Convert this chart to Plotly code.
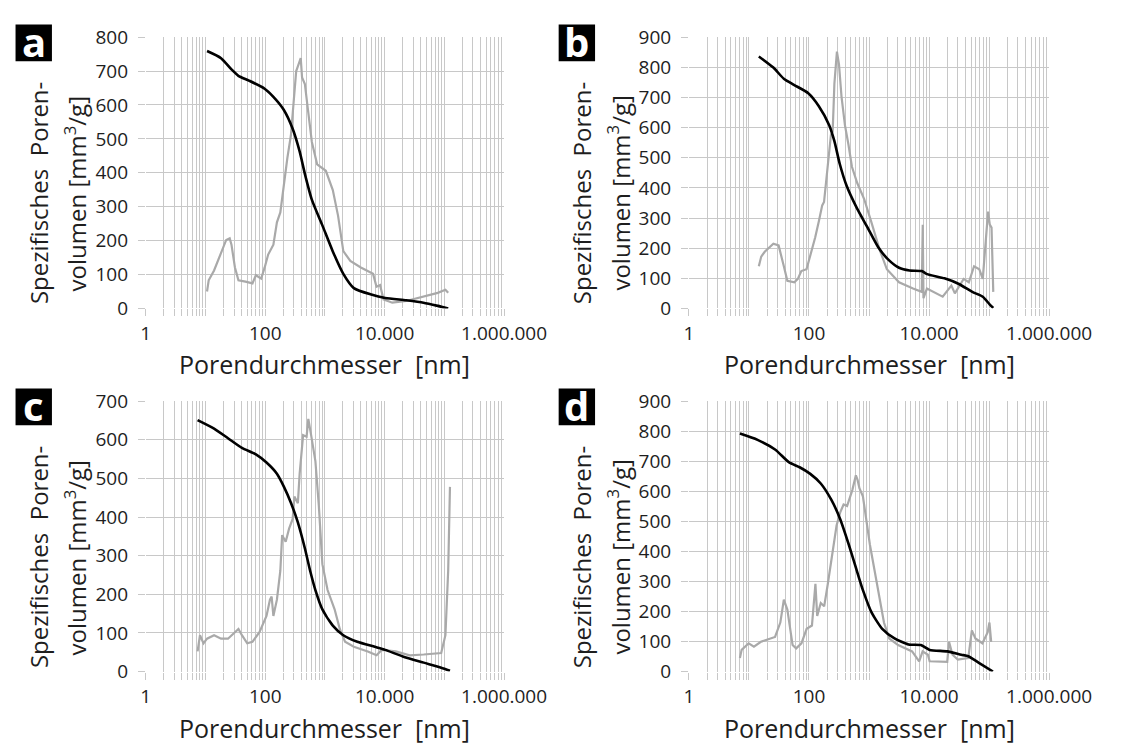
import plotly.graph_objects as go

# ---------------- data (diameter in nm, volume in mm3/g) ----------------
# Panel a
a_cum_x = [10.6, 18.2, 27.2, 35.5, 53.3, 97.7, 137, 204, 288, 377, 461, 603, 906, 1349, 2032, 3048,
           5970, 10233, 22910, 44670, 77620, 116100]
a_cum_y = [759, 738, 705, 686, 672, 648, 624, 586, 530, 463, 397, 321, 245, 169, 102, 60,
           41, 31, 24, 17, 7.6, 0]
a_dist_x = [10.6, 11.3, 13.9, 16.9, 19.4, 22.2, 25.4, 27.2, 31.1, 35.6, 46.7, 61.1, 69.8, 85.5, 97.9,
            112, 137, 157, 179, 206, 235, 269, 308, 330, 352, 393, 414, 461, 527, 604, 740, 906,
            1035, 1355, 1660, 2032, 2661, 3990, 6397, 7311, 8375, 9572, 13430, 23010, 45080,
            77450, 104200, 115900]
a_dist_y = [50, 83, 112, 150, 178, 202, 207, 188, 121, 83, 79, 74, 98, 88, 121,
            159, 188, 254, 283, 368, 444, 510, 634, 700, 714, 738, 681, 662, 577, 491, 425, 415,
            406, 349, 273, 169, 140, 121, 102, 64, 69, 27, 17, 22, 36,
            46, 55, 46]

# Panel b
b_cum_x = [14.6, 25.5, 38.1, 57.0, 97.3, 146, 217, 265, 325, 425, 634, 948, 1416, 2118, 3162, 4721,
           7551, 9226, 18030, 30760, 52600, 78520, 102800, 117500]
b_cum_y = [836, 799, 762, 741, 714, 671, 608, 555, 480, 406, 331, 268, 204, 161, 135, 126,
           124, 114, 100, 82, 55, 39, 13, 2]
b_dist_x = [14.6, 16.0, 18.3, 22.3, 25.5, 31.2, 33.4, 38.1, 43.6, 57.0, 65.2, 74.5, 91.0, 104, 127,
            146, 166, 178, 203, 232, 248, 265, 292, 316, 348, 397, 454, 519, 634, 830, 1084,
            1514, 1982, 3162, 5408, 7551, 7852, 8072, 9226, 12050, 16870, 23550, 26920, 37670,
            46030, 56230, 68710, 78520, 87500, 96160, 102800, 109900, 117500]
b_dist_y = [140, 172, 188, 204, 215, 209, 188, 140, 92, 87, 98, 124, 130, 172, 236,
            289, 342, 353, 470, 576, 586, 746, 852, 810, 703, 608, 544, 470, 417, 363, 289,
            193, 130, 87, 66, 55, 278, 34, 66, 55, 39, 76, 50, 98,
            87, 140, 130, 98, 236, 321, 278, 268, 55]

# Panel c
c_cum_x = [7.36, 13.9, 23.8, 40.7, 69.8, 105, 157, 206, 269, 352, 461, 565, 692, 906, 1355, 2032,
           3483, 6839, 10233, 20090, 45080, 88510, 124200]
c_cum_y = [651, 629, 604, 579, 562, 541, 512, 478, 437, 386, 319, 261, 211, 161, 119, 94,
           77, 64, 56, 39, 23, 10, 2]
c_dist_x = [7.36, 8.08, 9.25, 10.6, 13.9, 18.2, 23.8, 31.1, 35.6, 40.7, 49.9, 61.1, 80.0, 105, 120,
            128, 137, 157, 179, 192, 220, 251, 288, 308, 352, 377, 431, 493, 527, 587, 692,
            791, 906, 1107, 1452, 1774, 2173, 3048, 5224, 7311, 8954, 15350, 26300, 45080,
            88510, 104200, 115900, 124200]
c_dist_y = [52, 94, 73, 85, 94, 85, 85, 102, 110, 94, 73, 77, 102, 144, 186,
            194, 144, 186, 261, 353, 336, 370, 395, 453, 436, 512, 612, 608, 654, 612, 545,
            428, 278, 211, 161, 110, 77, 64, 52, 42, 56, 52, 42, 44,
            48, 94, 261, 478]

# Panel d
d_cum_x = [7.06, 13.9, 27.2, 46.7, 69.8, 105, 157, 235, 330, 461, 604, 791, 1107, 1660, 2661, 4560,
           7311, 10233, 20090, 34440, 45080, 67610, 115900]
d_cum_y = [792, 771, 739, 696, 680, 658, 626, 572, 508, 422, 346, 271, 196, 142, 110, 90,
           88, 72, 67, 56, 51, 29, 0]
d_dist_x = [7.06, 7.55, 9.89, 12.1, 15.8, 27.2, 33.3, 38.1, 43.6, 53.3, 61.1, 74.8, 91.4, 112, 128,
            137, 157, 179, 206, 251, 288, 330, 377, 431, 527, 604, 646, 692, 791, 1035, 1355,
            1774, 2173, 3048, 5224, 6839, 7816, 9572, 10233, 20090, 21530, 24600, 30130, 45080,
            51640, 59160, 77450, 94840, 101400, 108400]
d_dist_y = [45, 72, 94, 83, 99, 115, 163, 239, 206, 88, 77, 94, 142, 153, 292,
            185, 228, 217, 292, 411, 486, 529, 556, 551, 604, 653, 637, 610, 583, 422, 292,
            163, 110, 88, 67, 34, 67, 56, 34, 32, 99, 56, 40, 45,
            137, 110, 94, 131, 163, 99]

panel_letters = ["a", "b", "c", "d"]
y_max = [800, 900, 700, 900]
x_tick_labels = {1: "1", 100: "100", 10000: "10.000", 1000000: "1.000.000"}
x_title = "Porendurchmesser\u00a0 [nm]"
y_title_1 = "Spezifisches\u00a0 Poren-"
y_title_2 = "volumen [mm<sup>3</sup>/g]"

panels = [
    (a_cum_x, a_cum_y, a_dist_x, a_dist_y),
    (b_cum_x, b_cum_y, b_dist_x, b_dist_y),
    (c_cum_x, c_cum_y, c_dist_x, c_dist_y),
    (d_cum_x, d_cum_y, d_dist_x, d_dist_y),
]

# ---------------- layout geometry (pixels) ----------------
W, H = 1140, 755
x_px = [(147, 521), (714, 1090), (147, 521), (714, 1090)]
y_px = [(25, 306), (25, 306), (402, 682), (402, 682)]

def px_x(p):
    return p / W

def px_y(p):
    return 1 - p / H

grid_col = "#c8c8c8"
font_fam = "Open Sans"
text_col = "#1e1e1e"

tickvals = []
for k in range(6):
    for m in range(1, 10):
        tickvals.append(m * 10 ** k)
tickvals.append(10 ** 6)
ticktext = [x_tick_labels.get(v, "") for v in tickvals]

fig = go.Figure()
shapes = []
annotations = []

for i, (cx, cy, dx, dy) in enumerate(panels):
    xa = "x" if i == 0 else f"x{i+1}"
    ya = "y" if i == 0 else f"y{i+1}"
    fig.add_trace(go.Scatter(x=dx, y=dy, mode="lines", xaxis=xa, yaxis=ya,
                             line=dict(color="#a9a9a9", width=2.2), showlegend=False,
                             hoverinfo="skip"))
    fig.add_trace(go.Scatter(x=cx, y=cy, mode="lines", xaxis=xa, yaxis=ya,
                             line=dict(color="#000000", width=2.6, shape="spline", smoothing=0.6),
                             showlegend=False, hoverinfo="skip"))
    xkey = "xaxis" if i == 0 else f"xaxis{i+1}"
    ykey = "yaxis" if i == 0 else f"yaxis{i+1}"
    x0, x1 = x_px[i]
    y0, y1 = y_px[i]
    fig.layout[xkey] = dict(
        type="log", range=[0, 6], domain=[px_x(x0), px_x(x1)], anchor=ya,
        tickmode="array", tickvals=tickvals, ticktext=ticktext,
        showgrid=True, gridcolor=grid_col, gridwidth=1,
        ticks="outside", ticklen=7, tickcolor=grid_col, tickwidth=1,
        showline=False, zeroline=False, ticklabelstandoff=1,
        tickfont=dict(family=font_fam, size=19, color=text_col), fixedrange=True,
    )
    fig.layout[ykey] = dict(
        range=[0, y_max[i]], domain=[px_y(y1), px_y(y0)], anchor=xa,
        dtick=100, tick0=0,
        showgrid=True, gridcolor=grid_col, gridwidth=1,
        ticks="outside", ticklen=7, tickcolor=grid_col, tickwidth=1,
        showline=False, zeroline=False, ticklabelstandoff=6,
        tickfont=dict(family=font_fam, size=19, color=text_col), fixedrange=True,
    )
    # panel letter box
    bx = x0 - 136
    by = y0 - 13
    shapes.append(dict(type="rect", xref="paper", yref="paper",
                       x0=px_x(bx), x1=px_x(bx + 38), y0=px_y(by + 38), y1=px_y(by),
                       fillcolor="black", line=dict(width=0), layer="above"))
    annotations.append(dict(text=panel_letters[i], xref="paper", yref="paper",
                            x=px_x(bx + 19), y=px_y(by + 17), xanchor="center", yanchor="middle",
                            showarrow=False,
                            font=dict(family=font_fam, size=40, color="white", weight="bold")))
    # x title
    annotations.append(dict(text=x_title, xref="paper", yref="paper",
                            x=px_x((x0 + x1) / 2), y=px_y(y1 + 58), xanchor="center",
                            yanchor="middle", showarrow=False,
                            font=dict(family=font_fam, size=25, color=text_col)))
    # y title (two lines)
    annotations.append(dict(text=y_title_1, xref="paper", yref="paper",
                            x=px_x(x0 - 112), y=px_y(y0 + 162), xanchor="center",
                            yanchor="middle", textangle=-90, showarrow=False,
                            font=dict(family=font_fam, size=24, color=text_col)))
    annotations.append(dict(text=y_title_2, xref="paper", yref="paper",
                            x=px_x(x0 - 73), y=px_y(y0 + 162), xanchor="center",
                            yanchor="middle", textangle=-90, showarrow=False,
                            font=dict(family=font_fam, size=24, color=text_col)))

fig.update_layout(
    width=W, height=H, margin=dict(l=0, r=0, t=0, b=0),
    paper_bgcolor="white", plot_bgcolor="white",
    shapes=shapes, annotations=annotations, showlegend=False,
)

fig.write_html("out.html", config={"displayModeBar": False})
